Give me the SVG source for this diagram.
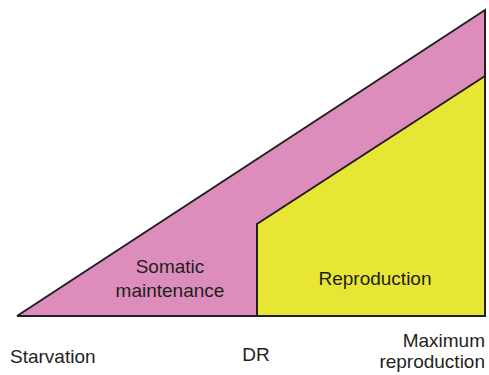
<svg xmlns="http://www.w3.org/2000/svg" width="489" height="375" viewBox="0 0 489 375">
<style>
.lbl{font-family:"Liberation Sans",Arial,sans-serif;font-size:19px;fill:#231f20}
.edge{stroke:#231f20;stroke-width:2;stroke-linejoin:miter;fill:none}
</style>
<rect width="489" height="375" fill="#fff"/>
<g id="somatic">
<polygon points="17,316 485,10 485,316" fill="#dc8dbc"/>
<text class="lbl" x="170" y="273" text-anchor="middle">Somatic</text>
<text class="lbl" x="170" y="297" text-anchor="middle">maintenance</text>
</g>
<g id="reproduction">
<polygon points="257,316 257,224 485,76 485,316" fill="#e8e634"/>
<text class="lbl" x="375" y="285" text-anchor="middle">Reproduction</text>
</g>
<g id="connectors">
<polyline class="edge" points="17,316 485,10 485,316 17,316"/>
<polyline class="edge" points="257,316 257,224 485,76"/>
</g>
<g id="axis-labels">
<text class="lbl" x="10" y="363">Starvation</text>
<text class="lbl" x="256" y="361" text-anchor="middle">DR</text>
<text class="lbl" x="485" y="347" text-anchor="end">Maximum</text>
<text class="lbl" x="485" y="368" text-anchor="end">reproduction</text>
</g>
</svg>
